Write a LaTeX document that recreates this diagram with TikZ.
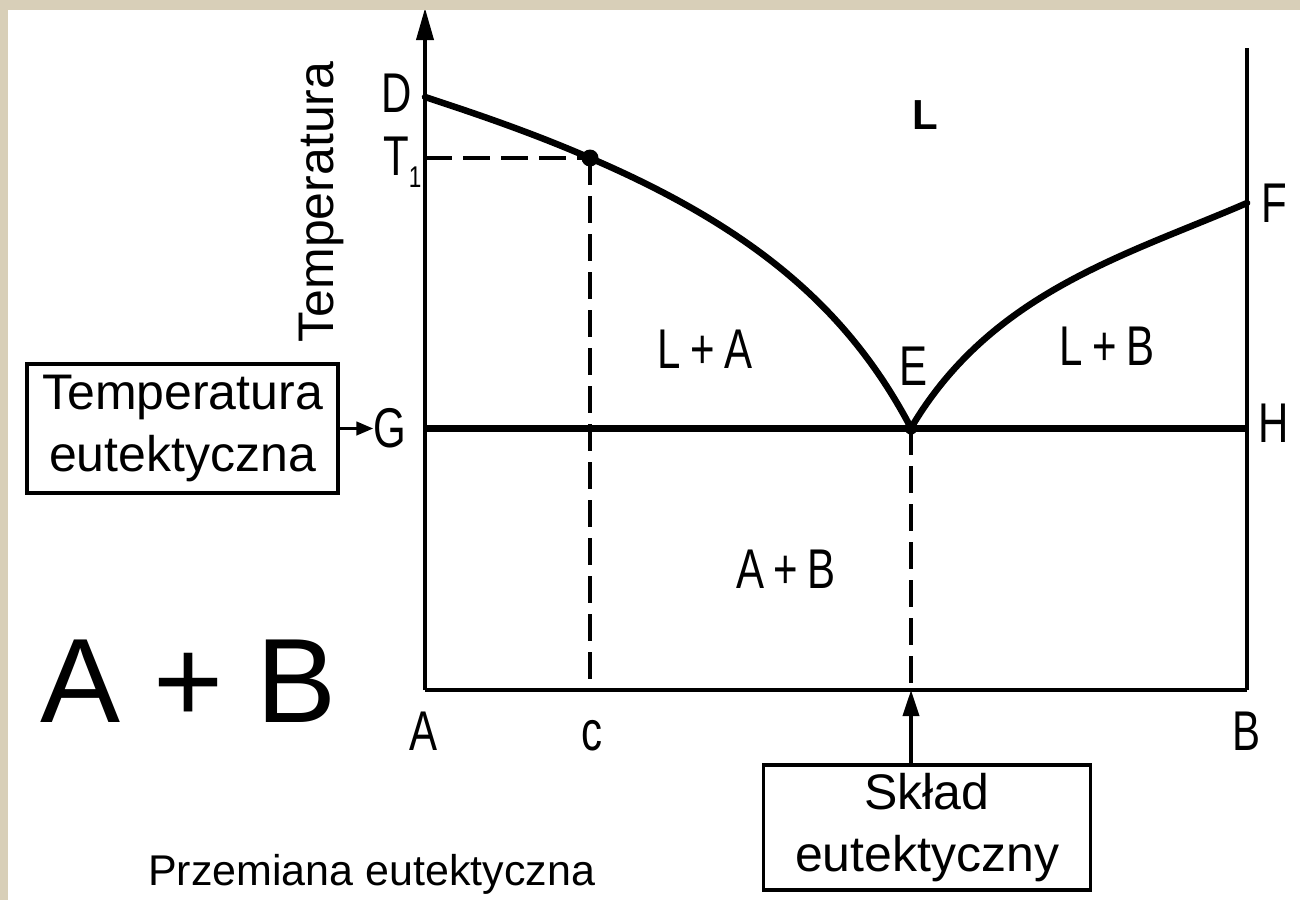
\documentclass[tikz,border=0pt]{standalone}
\usepackage{fontspec}
\setmainfont{Liberation Sans}
\newfontfamily\isocap[FakeStretch=0.75]{Liberation Sans}
\usetikzlibrary{arrows.meta}
\definecolor{paper}{RGB}{216,207,184}
\tikzset{
  axisline/.style={line width=3.8pt},
  phaseline/.style={line width=6.5pt, line join=round, line cap=round},
  eutline/.style={line width=7pt},
  dashline/.style={line width=3.4pt, dash pattern=on 27pt off 11pt},
  capl/.style={font=\fontsize{56}{56}\isocap, inner sep=0pt, anchor=base},
  word/.style={font=\fontsize{50}{62}\selectfont, inner sep=0pt, anchor=base},
  boxed/.style={draw, line width=3.5pt, inner sep=0pt, align=center, font=\fontsize{50}{62}\selectfont},
}
\begin{document}
\begin{tikzpicture}[x=1pt, y=-1pt]
\useasboundingbox (0,0) rectangle (1300,900);
\fill[white] (0,0) rectangle (1300,900);

% coordinates
\coordinate (O) at (425,690);
\coordinate (Ytop) at (425,8);
\coordinate (Bx) at (1247,690);
\coordinate (Rtop) at (1247,48);
\coordinate (Dp) at (425,97);
\coordinate (T1p) at (590,158);
\coordinate (Ep) at (911,428);
\coordinate (Fp) at (1247,203);
\coordinate (Gp) at (425,428);
\coordinate (Hp) at (1247,428);
\coordinate (cB) at (590,690);
\coordinate (eB) at (911,690);

% axes
\draw[axisline, -{Triangle[length=32pt,width=17pt]}] (O) -- (Ytop);
\draw[axisline] (O) -- (Bx);
\draw[axisline] (Bx) -- (Rtop);

% dashed lines
\draw[dashline] (T1p -| O) -- (T1p);
\draw[dashline] (T1p) -- (cB);
\draw[dashline] (Ep) -- (eB);

% eutectic line
\draw[eutline] (Gp) -- (Hp);

% liquidus curves
\draw[phaseline] (Dp) .. controls (480,115) and (535,134) .. (T1p)
                      .. controls (760,231) and (851,314) .. (Ep);
\draw[phaseline] (Ep) .. controls (991,292) and (1127,255) .. (Fp);

\fill (T1p) circle (8.5pt);
\fill (Ep) circle (6.5pt);

% labels on diagram
\node[capl] (lD) at (397,112) {D};
\node[capl, anchor=base west] (lT) at (383,175) {T\raisebox{-12pt}{\fontsize{30}{30}\selectfont 1}};
\node[capl] (lG) at (390,447) {G};
\node[capl] (lH) at (1274,442) {H};
\node[capl] (lF) at (1274,222) {F};
\node[capl] (lE) at (913,385) {E};
\node[capl] (lA) at (424,750) {A};
\node[capl] (lc) at (592,750) {c};
\node[capl] (lB) at (1246,750) {B};
\node[capl] (rLA) at (705,368) {L\,+\,A};
\node[capl] (rLB) at (1107,365) {L\,+\,B};
\node[capl] (rAB) at (786,588) {A\,+\,B};
\node[inner sep=0pt, anchor=base, font=\fontsize{42}{42}\selectfont\bfseries] (rL) at (925,129) {L};
\node[word, rotate=90] (ylab) at (333,202) {Temperatura};

% boxes
\node[boxed, minimum width=311pt, minimum height=129pt] (tbox) at (182.5,428.5) {Temperatura\\eutektyczna};
\node[boxed, minimum width=327pt, minimum height=125pt] (sbox) at (927,827.5) {Skład\\eutektyczny};

\draw[axisline, -{Triangle[length=17pt,width=13pt]}] (tbox.east) -- (tbox.east -| lG.west);
\draw[axisline, -{Triangle[length=26pt,width=16pt]}] (sbox.north -| eB) -- (eB);

% other texts
\node[inner sep=0pt, anchor=base west, font=\fontsize{120}{120}\selectfont] (big) at (40,722) {A + B};
\node[inner sep=0pt, anchor=base west, font=\fontsize{43}{43}\selectfont] (title) at (148,885) {Przemiana eutektyczna};

% paper edges
\fill[paper] (0,0) rectangle (1300,10);
\fill[paper] (0,0) rectangle (8,900);
\end{tikzpicture}
\end{document}
